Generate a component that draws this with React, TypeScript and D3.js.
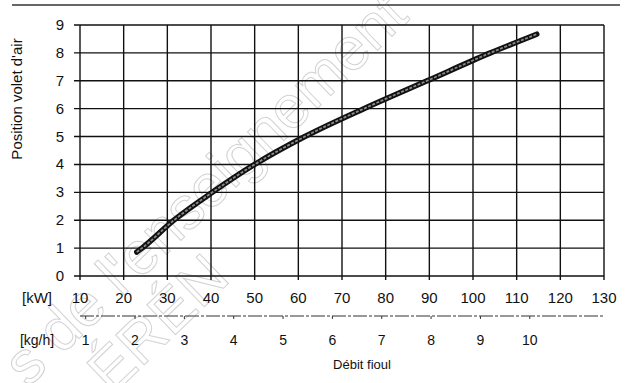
import React from 'react';
import * as d3 from 'd3';

// air shutter position vs. burner output (scanned chart)
const kwTicks = [10, 20, 30, 40, 50, 60, 70, 80, 90, 100, 110, 120, 130];
const posTicks = [0, 1, 2, 3, 4, 5, 6, 7, 8, 9];
const kgTicks = [1, 2, 3, 4, 5, 6, 7, 8, 9, 10];
const kwPerKg = 11.3;

const curveKw = [23, 24.2, 31.5, 40.3, 50, 61.5, 75, 89.5, 104, 114.6];
const curvePos = [0.86, 1, 2, 3, 4, 5, 6, 7, 8, 8.67];

const W = 628;
const H = 383;
const font = '"Liberation Sans", Arial, sans-serif';

export default function App() {
  const x = d3.scaleLinear().domain([10, 130]).range([80, 604]);
  const y = d3.scaleLinear().domain([0, 9]).range([276, 25]);
  const kg = (k: number) => x(k * kwPerKg);

  const line = d3.line<number>()
    .x((d, i) => x(curveKw[i]))
    .y((d) => y(d))
    .curve(d3.curveMonotoneX);
  const path = line(curvePos) || '';

  const kgLineY = 316;

  return (
    <div style={{ position: 'absolute', left: 0, top: 0 }}>
      <svg width={W} height={H} style={{ display: 'block', background: '#fff' }}>
        {/* watermark */}
        <g fill="none" stroke="#d2d2d2" strokeWidth={1} fontFamily={font} fontSize={60}>
          <text transform="translate(28,388) rotate(-44)">s de l'enseignement</text>
          <text transform="translate(112,396) rotate(-44)">ÉRÉN</text>
        </g>

        {/* top rule */}
        <line x1={12} x2={620} y1={5} y2={5} stroke="#333" strokeWidth={1.5} />

        {/* grid */}
        <g stroke="#111" strokeWidth={1.4}>
          {posTicks.map((p) => (
            <line key={'h' + p} x1={x(10) - 6} x2={x(130)} y1={y(p)} y2={y(p)} />
          ))}
          {kwTicks.map((k) => (
            <line key={'v' + k} x1={x(k)} x2={x(k)} y1={y(9)} y2={y(0) + 4} />
          ))}
        </g>

        {/* curve */}
        <path d={path} fill="none" stroke="#111" strokeWidth={5.5} strokeLinecap="round" />
        <path d={path} fill="none" stroke="#8a8a8a" strokeWidth={1.8} strokeDasharray="3 1.5" />

        {/* y axis labels */}
        <g fontFamily={font} fontSize={15} fill="#111" textAnchor="end">
          {posTicks.map((p) => (
            <text key={'yl' + p} x={64} y={y(p) + 5}>{p}</text>
          ))}
        </g>
        <text
          transform="translate(22,99) rotate(-90)"
          textAnchor="middle"
          fontFamily={font}
          fontSize={15}
          fill="#111"
        >
          Position volet d'air
        </text>

        {/* kW axis */}
        <g fontFamily={font} fontSize={15} fill="#111" textAnchor="middle">
          <text x={37} y={303}>[kW]</text>
          {kwTicks.map((k) => (
            <text key={'kw' + k} x={x(k)} y={303}>{k}</text>
          ))}
        </g>

        {/* kg/h axis */}
        <line x1={x(10)} x2={x(130)} y1={kgLineY} y2={kgLineY} stroke="#333" strokeWidth={1} strokeDasharray="14 2 3 2" />
        <g stroke="#333" strokeWidth={1}>
          {kgTicks.map((k) => (
            <line key={'kt' + k} x1={kg(k)} x2={kg(k)} y1={kgLineY} y2={kgLineY + 3} />
          ))}
        </g>
        <g fontFamily={font} fontSize={14} fill="#111" textAnchor="middle">
          <text x={37} y={345}>[kg/h]</text>
          {kgTicks.map((k) => (
            <text key={'kg' + k} x={kg(k)} y={345}>{k}</text>
          ))}
        </g>
        <text x={362} y={369} textAnchor="middle" fontFamily={font} fontSize={13} fill="#111">
          Débit fioul
        </text>
      </svg>
    </div>
  );
}
